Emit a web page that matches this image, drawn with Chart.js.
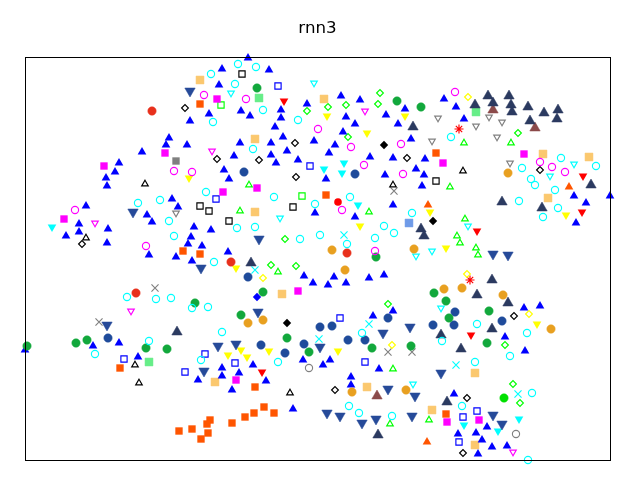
<!DOCTYPE html>
<html>
<head>
<meta charset="utf-8">
<title>rnn3</title>
<script src="https://cdn.jsdelivr.net/npm/chart.js@4/dist/chart.umd.js"></script>
<style>
  body { margin: 0; background: #fff; }
  canvas { display: block; }
</style>
</head>
<body>
<canvas id="Chart" width="640" height="480"></canvas>
<script>
const chartTitle = "rnn3";

// values, [x, y]
const blueUp = [[117,308],[144,322],[141,315],[162,315],[165,339],[184,346],[94,297],[90,288],[81,282],[82,274],[194,375],[197,391],[223,402],[244,390],[282,356],[316,364],[335,360],[216,349],[225,344],[256,350],[256,342],[250,333],[258,323],[215,317],[246,317],[209,304],[246,305],[262,309],[251,297],[273,300],[199,290],[204,281],[289,319],[321,343],[330,336],[318,328],[310,315],[304,307],[345,303],[301,281],[361,345],[380,351],[373,336],[386,321],[368,302],[391,291],[360,285],[419,361],[431,353],[439,341],[400,301],[399,285],[397,274],[61,254],[54,236],[41,224],[54,228],[83,231],[82,217],[122,245],[127,238],[124,205],[147,261],[153,253],[169,233],[166,223],[163,216],[177,214],[151,203],[167,199],[186,230],[290,247],[330,243],[368,255],[203,208],[279,184],[288,177],[303,175],[309,183],[321,177],[344,182],[359,185],[368,149],[348,144],[549,264],[561,257],[585,264],[551,237],[499,152],[515,154],[0,110],[68,114],[94,117],[113,103],[173,80],[197,92],[197,84],[228,95],[214,87],[241,79],[207,70],[278,100],[298,95],[305,100],[326,83],[326,75],[354,91],[268,51],[480,123],[500,109],[429,66],[462,33],[451,27],[433,26],[457,20],[467,13],[482,14],[453,6]];
const navyUp = [[388,333],[463,364],[484,364],[450,355],[468,357],[486,355],[503,353],[487,348],[519,347],[533,350],[505,339],[532,341],[566,275],[477,258],[517,252],[396,231],[399,224],[226,197],[467,180],[452,165],[483,157],[467,131],[152,128],[416,125],[436,111],[422,58],[353,25]];
const brownUp = [[468,350],[510,332],[352,64]];
const orangeUp = [[544,273],[403,255],[402,18]];
const navyDown = [[165,369],[108,248],[176,192],[82,135],[234,221],[233,148],[385,133],[468,206],[483,205],[193,114],[179,89],[211,116],[295,113],[358,127],[363,71],[390,64],[302,47],[315,44],[337,37],[351,41],[387,44],[416,87],[468,45],[477,36]];
const cyanDown = [[27,233],[333,255],[299,291],[319,297],[317,287],[439,35],[473,29],[494,41]];
const yellowDown = [[164,282],[302,344],[342,327],[380,344],[335,234],[211,192],[405,248],[541,245],[421,212],[512,136],[203,105],[216,110],[222,103],[244,109],[313,109]];
const redDown = [[259,359],[558,284],[557,248],[452,229],[237,88],[446,125]];
const cyanDownOpen = [[206,367],[289,377],[549,296],[525,284],[255,242],[391,204],[443,234],[407,209],[416,152],[388,76]];
const greyDownOpen = [[413,342],[464,343],[477,338],[451,334],[472,323],[407,319],[485,297],[151,247]];
const magentaDownOpen = [[187,309],[340,349],[70,237],[106,149],[488,8]];
const limeUpOpen = [[224,275],[439,317],[486,317],[425,273],[215,249],[344,248],[253,188],[440,241],[432,224],[435,217],[451,212],[453,205],[368,91],[365,36],[404,40]];
const blackUpOpen = [[120,276],[368,275],[438,289],[61,222],[110,95],[114,77],[265,67]];
const magentaSq = [[192,361],[140,307],[79,294],[232,272],[418,297],[499,306],[39,241],[198,268],[273,169],[211,80],[422,38],[454,40]];
const orangeSq = [[175,356],[411,307],[158,209],[175,206],[301,265],[95,92],[185,40],[182,36],[167,31],[154,29],[183,27],[176,21],[230,73],[239,53],[249,47],[229,47],[220,43],[207,37],[421,46]];
const paleOrangeSq = [[175,380],[299,361],[230,321],[518,306],[564,303],[523,262],[230,248],[257,166],[190,78],[342,73],[450,87],[407,50],[450,15]];
const paleGreenSq = [[234,362],[451,348],[124,98]];
const greySq = [[151,299]];
const periwinkleSq = [[384,237]];
const blackSqOpen = [[217,386],[411,279],[175,254],[184,249],[268,253],[204,239]];
const blueSqOpen = [[253,374],[285,294],[191,261],[315,142],[99,101],[160,88],[180,106],[210,97],[340,98],[452,49],[438,43],[434,18]];
const limeSqOpen = [[196,355],[277,264]];
const blackDiaOpen = [[160,352],[192,301],[270,317],[234,300],[271,283],[382,302],[515,290],[57,216],[489,144],[310,70],[442,62],[438,7]];
const blackDia = [[359,315],[408,239],[262,137]];
const blueDia = [[232,163]];
const limeDiaOpen = [[282,349],[303,353],[321,355],[355,367],[353,356],[323,323],[493,327],[260,221],[246,195],[271,194],[363,156],[480,115],[488,76],[495,57]];
const yellowDiaOpen = [[443,363],[238,182],[442,186],[504,146],[367,115]];
const cyanCircleOpen = [[186,386],[188,338],[213,396],[231,393],[210,376],[238,350],[273,340],[228,311],[426,323],[536,302],[571,294],[497,292],[506,281],[510,275],[530,270],[113,257],[135,260],[144,239],[149,224],[189,198],[181,268],[102,163],[131,161],[146,162],[167,152],[183,153],[249,263],[290,256],[325,263],[212,232],[230,233],[275,221],[295,225],[322,216],[350,222],[359,234],[369,227],[387,247],[494,259],[533,252],[518,243],[452,136],[502,127],[70,106],[124,119],[176,100],[197,128],[337,127],[253,98],[324,54],[334,47],[367,44],[417,119],[485,104],[450,98],[507,67],[437,54],[503,0]];
const magentaCircleOpen = [[179,365],[149,289],[167,288],[221,361],[293,331],[326,313],[339,295],[376,316],[378,286],[430,368],[515,298],[527,293],[540,288],[50,250],[121,214],[317,250],[350,209]];
const greyCircleOpen = [[284,92],[491,26]];
const greenCircle = [[232,372],[372,359],[396,353],[170,157],[351,203],[238,168],[216,145],[409,167],[421,159],[464,149],[424,142],[2,114],[51,117],[62,120],[121,112],[142,111],[262,122],[284,108],[347,112],[386,114],[462,117]];
const limeCircle = [[479,62]];
const navyCircle = [[219,288],[330,286],[223,183],[363,142],[295,133],[307,134],[430,148],[477,139],[408,135],[429,135],[83,122],[236,115],[260,107],[279,116],[323,120],[340,120]];
const orangeCircle = [[483,287],[307,210],[320,190],[389,211],[223,137],[238,140],[419,171],[437,172],[478,165],[526,131],[327,68],[381,70]];
const redCircle = [[127,349],[111,167],[206,198],[322,207]];
const brightRedCircle = [[313,258]];
const cyanCross = [[319,225],[230,190],[344,136],[294,121],[431,95],[493,66]];
const greyCross = [[369,269],[130,172],[74,138],[363,108],[387,108]];
const redStar = [[434,331],[445,180]];

const openWidth = 1.15;

function points(list) {
  return list.map(function (p) { return { x: p[0], y: p[1] }; });
}

// solid marker, edge is a paler copy of the fill like the alpha edge in the original
function solid(list, shape, color, radius, rotation, edge) {
  return {
    data: points(list),
    pointStyle: shape,
    pointRadius: radius,
    pointRotation: rotation || 0,
    pointBackgroundColor: color,
    pointBorderColor: edge || color,
    pointBorderWidth: edge ? 1 : 0,
    showLine: false,
    clip: false,
  };
}

function open(list, shape, color, radius, rotation) {
  return {
    data: points(list),
    pointStyle: shape,
    pointRadius: radius,
    pointRotation: rotation || 0,
    pointBackgroundColor: "rgba(0,0,0,0)",
    pointBorderColor: color,
    pointBorderWidth: openWidth,
    showLine: false,
    clip: false,
  };
}

const datasets = [
  open(cyanCircleOpen, "circle", "#00ffff", 3.6),
  open(magentaCircleOpen, "circle", "#ff00ff", 3.6),
  open(greyCircleOpen, "circle", "#808080", 3.6),
  solid(greenCircle, "circle", "#12a83c", 4.2, 0, "rgba(18,168,60,0.5)"),
  solid(limeCircle, "circle", "#00e000", 4.2, 0, "rgba(0,224,0,0.5)"),
  solid(navyCircle, "circle", "#1f4b9b", 4.2, 0, "rgba(31,75,155,0.5)"),
  solid(orangeCircle, "circle", "#e8a020", 4.2, 0, "rgba(232,160,32,0.5)"),
  solid(redCircle, "circle", "#e8301c", 4.2, 0, "rgba(232,48,28,0.5)"),
  solid(brightRedCircle, "circle", "#ff0000", 3.8),
  solid(blueUp, "triangle", "#0000ff", 5),
  solid(navyUp, "triangle", "#2b3a60", 6, 0, "rgba(43,58,96,0.5)"),
  solid(brownUp, "triangle", "#8b4a4a", 6, 0, "rgba(139,74,74,0.5)"),
  solid(orangeUp, "triangle", "#ff5500", 5),
  solid(navyDown, "triangle", "#264a99", 6, 180, "rgba(38,74,153,0.5)"),
  solid(cyanDown, "triangle", "#00ffff", 5, 180),
  solid(yellowDown, "triangle", "#ffff00", 5, 180),
  solid(redDown, "triangle", "#ff0000", 5, 180),
  open(cyanDownOpen, "triangle", "#00ffff", 3.8, 180),
  open(greyDownOpen, "triangle", "#808080", 3.8, 180),
  open(magentaDownOpen, "triangle", "#ff00ff", 3.8, 180),
  open(limeUpOpen, "triangle", "#00ff00", 3.8),
  open(blackUpOpen, "triangle", "#000000", 3.8),
  solid(magentaSq, "rect", "#ff00ff", 5.2),
  solid(orangeSq, "rect", "#ff5500", 5.2),
  solid(paleOrangeSq, "rect", "#fbc86e", 5.6, 0, "rgba(251,200,110,0.5)"),
  solid(paleGreenSq, "rect", "#66ee88", 5.6, 0, "rgba(102,238,136,0.5)"),
  solid(greySq, "rect", "#808080", 5.2),
  solid(periwinkleSq, "rect", "#6f9be8", 5.6, 0, "rgba(111,155,232,0.5)"),
  open(blackSqOpen, "rect", "#000000", 4.4),
  open(blueSqOpen, "rect", "#0000ff", 4.4),
  open(limeSqOpen, "rect", "#00ff00", 4.4),
  open(blackDiaOpen, "rectRot", "#000000", 3.4),
  solid(blackDia, "rectRot", "#000000", 4.2),
  solid(blueDia, "rectRot", "#0000ff", 4.2),
  open(limeDiaOpen, "rectRot", "#00ff00", 3.4),
  open(yellowDiaOpen, "rectRot", "#ffff00", 3.4),
  open(cyanCross, "crossRot", "#00ffff", 5),
  open(greyCross, "crossRot", "#808080", 5),
  open(redStar, "star", "#ff0000", 4.5),
];

// plain box round the axes, drawn over the markers
const frame = {
  id: "frame",
  afterDatasetsDraw: function (chart) {
    const a = chart.chartArea;
    const ctx = chart.ctx;
    ctx.save();
    ctx.strokeStyle = "#000000";
    ctx.lineWidth = 1;
    ctx.strokeRect(a.left + 0.5, a.top + 0.5, a.right - a.left, a.bottom - a.top);
    ctx.restore();
  },
};

new Chart(document.getElementById("Chart").getContext("2d"), {
  type: "scatter",
  data: { datasets: datasets },
  plugins: [frame],
  options: {
    responsive: false,
    animation: false,
    layout: { padding: { left: 25, right: 30, top: 0, bottom: 20 } },
    plugins: {
      legend: { display: false },
      tooltip: { enabled: false },
      title: {
        display: true,
        text: chartTitle,
        color: "#000000",
        font: { family: "DejaVu Sans", size: 16.67, weight: "normal" },
        padding: { top: 19, bottom: 18 },
      },
    },
    scales: {
      x: { display: false, min: 0, max: 585 },
      y: { display: false, min: 0, max: 403 },
    },
  },
});
</script>
</body>
</html>
